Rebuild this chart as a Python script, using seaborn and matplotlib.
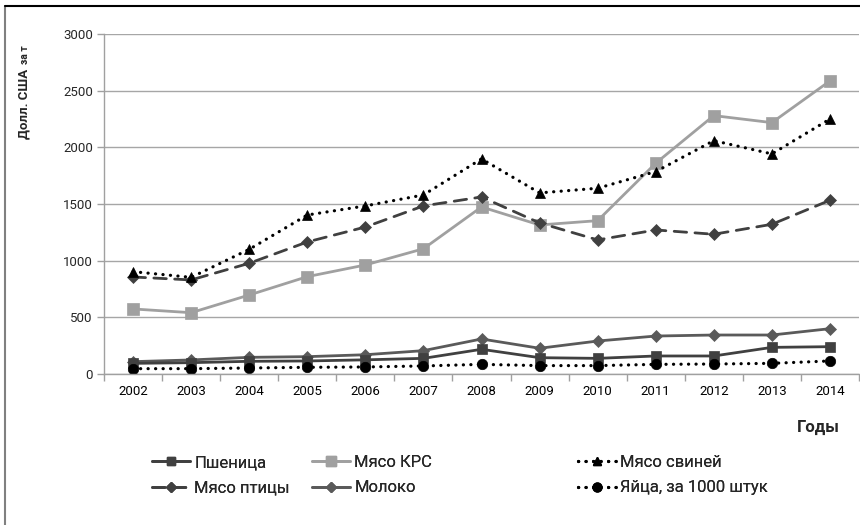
import matplotlib
matplotlib.use("Agg")
import matplotlib.pyplot as plt
from matplotlib.lines import Line2D
import seaborn as sns
import numpy as np
import pandas as pd

years = ["2002", "2003", "2004", "2005", "2006", "2007", "2008",
         "2009", "2010", "2011", "2012", "2013", "2014"]
wheat = [94, 100, 112, 115, 125, 138, 218, 144, 138, 159, 159, 235, 241]
beef = [574, 541, 697, 859, 962, 1105, 1474, 1315, 1353, 1860, 2280, 2218, 2586]
pork = [903, 853, 1100, 1403, 1483, 1580, 1898, 1598, 1639, 1786, 2059, 1942, 2250]
poultry = [856, 830, 977, 1165, 1297, 1483, 1562, 1333, 1183, 1271, 1233, 1321, 1533]
milk = [109, 124, 147, 153, 170, 206, 309, 227, 291, 335, 344, 344, 400]
eggs = [47, 47, 53, 59, 62, 71, 85, 74, 74, 85, 88, 94, 115]
y_ticks = [0, 500, 1000, 1500, 2000, 2500, 3000]

names = ["Пшеница", "Мясо КРС", "Мясо свиней", "Мясо птицы", "Молоко", "Яйца, за 1000 штук"]
series = [wheat, beef, pork, poultry, milk, eggs]

sns.set_theme(style="white")
plt.rcParams['font.family'] = ['Roboto', 'DejaVu Sans']

W, H = 860, 525
fig = plt.figure(figsize=(W / 100, H / 100), dpi=100)
ax = fig.add_axes([104 / W, 1 - 374 / H, (859 - 104) / W, (374 - 34) / H])

DOT = (0, (0.05, 2.3))
styles = {
    "Пшеница": dict(color="#404040", marker="s", ls="-", ms=7.5, lw=2.0),
    "Мясо КРС": dict(color="#a0a0a0", marker="s", ls="-", ms=8, lw=2.0),
    "Мясо свиней": dict(color="#000000", marker="^", ls=DOT, ms=7.5, lw=2.3),
    "Мясо птицы": dict(color="#404040", marker="D", ls=(0, (4.5, 3)), ms=6.5, lw=2.0),
    "Молоко": dict(color="#5a5a5a", marker="D", ls="-", ms=6.5, lw=2.0),
    "Яйца, за 1000 штук": dict(color="#000000", marker="o", ls=DOT, ms=7.5, lw=2.3),
}

x = np.arange(len(years))
draw_order = ["Мясо КРС", "Мясо птицы", "Мясо свиней", "Молоко", "Пшеница", "Яйца, за 1000 штук"]
for nm in draw_order:
    vals = series[names.index(nm)]
    st = styles[nm]
    df = pd.DataFrame({"x": x, "y": vals})
    sns.lineplot(data=df, x="x", y="y", ax=ax, color=st["color"], marker=st["marker"],
                 markersize=st["ms"], linewidth=st["lw"], linestyle=st["ls"],
                 markeredgecolor=st["color"], markeredgewidth=0.5,
                 dash_capstyle="round", legend=False)

ax.set_xlim(-0.5, len(years) - 0.5)
ax.set_ylim(0, 3000)
ax.set_yticks(y_ticks)
ax.set_yticklabels([str(v) for v in y_ticks], fontsize=9.5)
ax.set_xticks(x)
ax.set_xticklabels(years, fontsize=9.5)
ax.set_xticks(np.arange(-0.5, len(years) + 0.5, 1), minor=True)
ax.tick_params(axis="x", which="major", length=0, pad=8, colors="#000000")
ax.tick_params(axis="x", which="minor", length=5, width=1, color="#a0a0a0", bottom=True)
ax.tick_params(axis="y", which="major", length=5, width=1, color="#a0a0a0", left=True, pad=3)
ax.grid(axis="y", color="#a6a6a6", lw=1)
ax.set_axisbelow(True)
for s in ["top", "right"]:
    ax.spines[s].set_visible(False)
for s in ["left", "bottom"]:
    ax.spines[s].set_color("#a0a0a0")
    ax.spines[s].set_linewidth(1)
ax.set_xlabel("")
ax.set_ylabel("")

# Labels
fig.text(24 / W, 1 - 69 / H, "Долл. США", rotation=90, ha="center", va="top",
         fontsize=9.5, fontweight="bold")
fig.text(25.5 / W, 1 - 45 / H, "за т", rotation=90, ha="center", va="top",
         fontsize=7.5, fontweight="bold")
fig.text(818 / W, 1 - 427 / H, "Годы", ha="center", va="center",
         fontsize=12, fontweight="bold")

# Legends: three columns
cols = [(152, ["Пшеница", "Мясо птицы"]),
        (312, ["Мясо КРС", "Молоко"]),
        (578, ["Мясо свиней", "Яйца, за 1000 штук"])]
for xpos, nms in cols:
    handles = []
    for nm in nms:
        st = styles[nm]
        handles.append(Line2D([0], [0], color=st["color"], marker=st["marker"],
                              ms=st["ms"] * 0.85, lw=st["lw"], ls=st["ls"],
                              markeredgecolor=st["color"], dash_capstyle="round"))
    leg = fig.legend(handles, nms, loc="upper left",
                     bbox_to_anchor=(xpos / W, 1 - 455 / H), frameon=False,
                     fontsize=12, handlelength=2.3, handletextpad=0.25,
                     labelspacing=0.62, borderaxespad=0, borderpad=0)
    fig.add_artist(leg)

# outer frame
fig.add_artist(Line2D([5 / W, 5 / W], [0, 1 - 6 / H], color="#808080", lw=1.5,
                      transform=fig.transFigure))
fig.add_artist(Line2D([5 / W, 1], [1 - 6 / H, 1 - 6 / H], color="#000000", lw=1.5,
                      transform=fig.transFigure))

fig.savefig("out.png", dpi=100)
